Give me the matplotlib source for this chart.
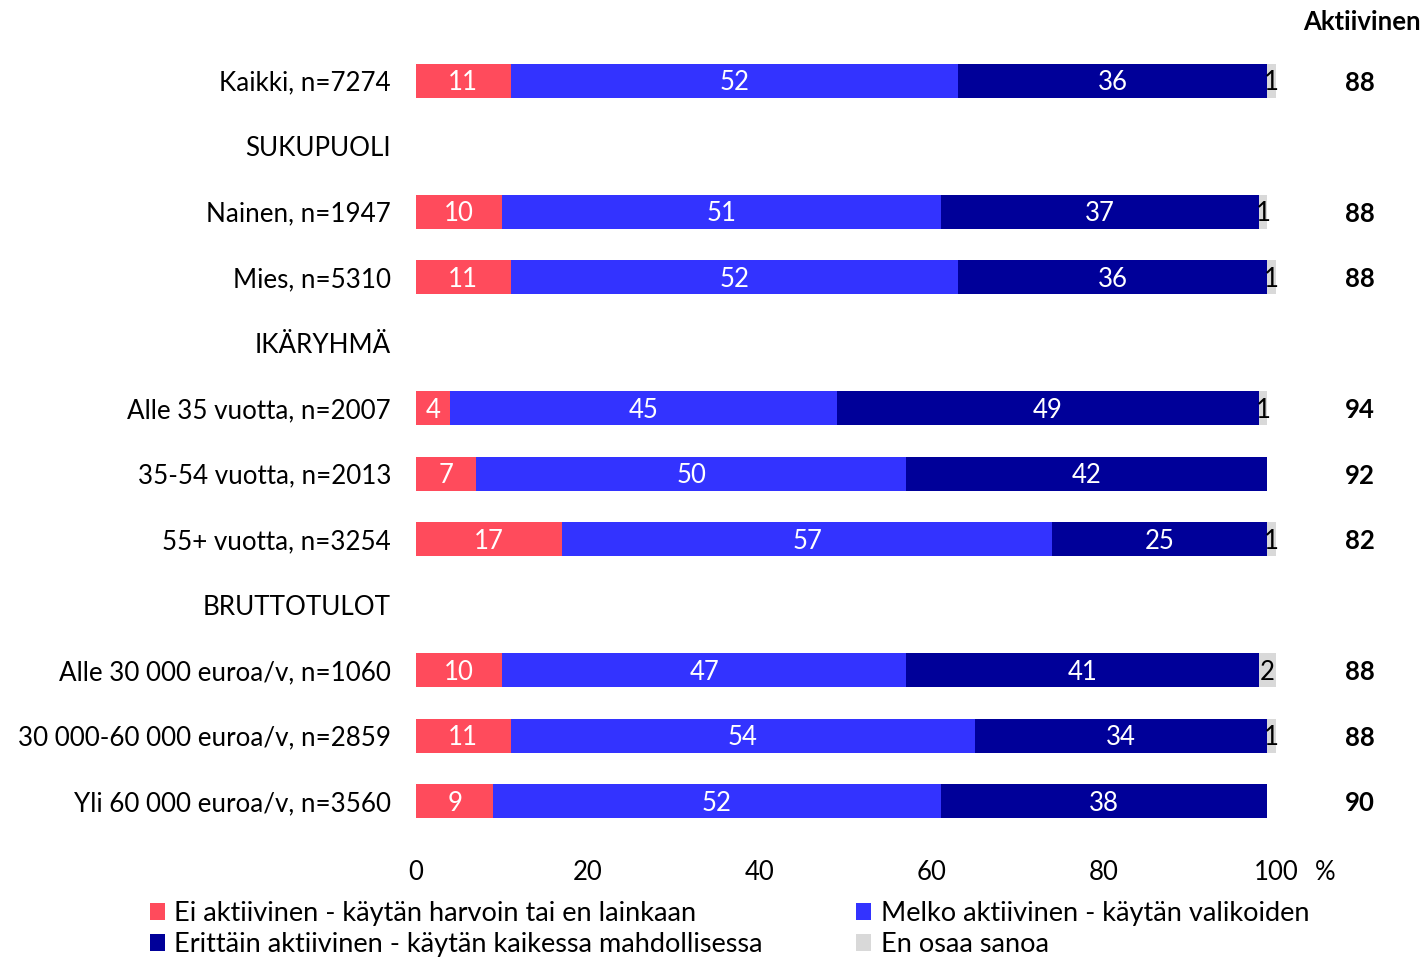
import matplotlib.pyplot as plt
import numpy as np

# ─── DATA ────────────────────────────────────────────────────────────────────
rivit = ['Kaikki, n=7274', 'SUKUPUOLI', 'Nainen, n=1947', 'Mies, n=5310',
         'IKÄRYHMÄ', 'Alle 35 vuotta, n=2007', '35-54 vuotta, n=2013',
         '55+ vuotta, n=3254', 'BRUTTOTULOT', 'Alle 30 000 euroa/v, n=1060',
         '30 000-60 000 euroa/v, n=2859', 'Yli 60 000 euroa/v, n=3560']

# None = otsikkorivi, ei palkkia
ei_aktiivinen = [11, None, 10, 11, None, 4, 7, 17, None, 10, 11, 9]
melko_aktiivinen = [52, None, 51, 52, None, 45, 50, 57, None, 47, 54, 52]
erittain_aktiivinen = [36, None, 37, 36, None, 49, 42, 25, None, 41, 34, 38]
en_osaa = [1, None, 1, 1, None, 1, 0, 1, None, 2, 1, 0]
aktiivinen = [88, None, 88, 88, None, 94, 92, 82, None, 88, 88, 90]

sarjat = ['Ei aktiivinen - käytän harvoin tai en lainkaan',
          'Melko aktiivinen - käytän valikoiden',
          'Erittäin aktiivinen - käytän kaikessa mahdollisessa',
          'En osaa sanoa']
varit = ['#FF4B5C', '#3333FF', '#000099', '#D9D9D9']
tekstivarit = ['white', 'white', 'white', 'black']

plt.rcParams['font.family'] = ['Lato', 'DejaVu Sans']

fig = plt.figure(figsize=(14.27, 9.57), dpi=100)
ax = fig.add_axes([416/1427, 1 - 834/957, 860/1427, 786/957])

y = np.arange(len(rivit))
arvot = [ei_aktiivinen, melko_aktiivinen, erittain_aktiivinen, en_osaa]
vasen = np.zeros(len(rivit))
kahvat = []
for sarja, vari, tv, nimi in zip(arvot, varit, tekstivarit, sarjat):
    v = np.array([np.nan if s is None else s for s in sarja], dtype=float)
    bars = ax.barh(y, np.nan_to_num(v), left=vasen, height=0.52, color=vari,
                   label=nimi)
    kahvat.append(bars)
    for i, val in enumerate(v):
        if np.isnan(val) or val == 0:
            continue
        ax.text(vasen[i] + val/2, y[i] + 0.03, f'{val:.0f}', ha='center',
                va='center', fontsize=18.5, color=tv)
    vasen = vasen + np.nan_to_num(v)

for i, a in enumerate(aktiivinen):
    if a is not None:
        ax.text(1.0 + 84/860, y[i] + 0.03, str(a),
                transform=ax.get_yaxis_transform(),
                ha='center', va='center', fontsize=18.5, fontweight='bold')
fig.text(1421/1427, 1 - 22/957, 'Aktiivinen', ha='right', va='center',
         fontsize=18.5, fontweight='bold')

ax.set_ylim(len(rivit) - 0.5, -0.5)
ax.set_xlim(0, 100)
ax.set_yticks(y)
ax.set_yticklabels(rivit, fontsize=18.7)
ax.set_xticks([0, 20, 40, 60, 80, 100])
ax.tick_params(axis='x', labelsize=18.5, length=0, pad=19)
ax.tick_params(axis='y', length=0, pad=18)
for s in ax.spines.values():
    s.set_visible(False)
fig.text(1325/1427, 1 - 872/957, '%', ha='center', va='center', fontsize=18.5)

jarjestys = [0, 2, 1, 3]
fig.legend([kahvat[k] for k in jarjestys], [sarjat[k] for k in jarjestys],
           loc='upper left', bbox_to_anchor=(150/1427, 1 - 901/957), ncol=2,
           frameon=False, fontsize=19.5, handlelength=0.55, handleheight=0.6,
           handletextpad=0.35, columnspacing=3.45, labelspacing=0.22,
           borderpad=0, borderaxespad=0)

fig.savefig('out.png', dpi=100)
